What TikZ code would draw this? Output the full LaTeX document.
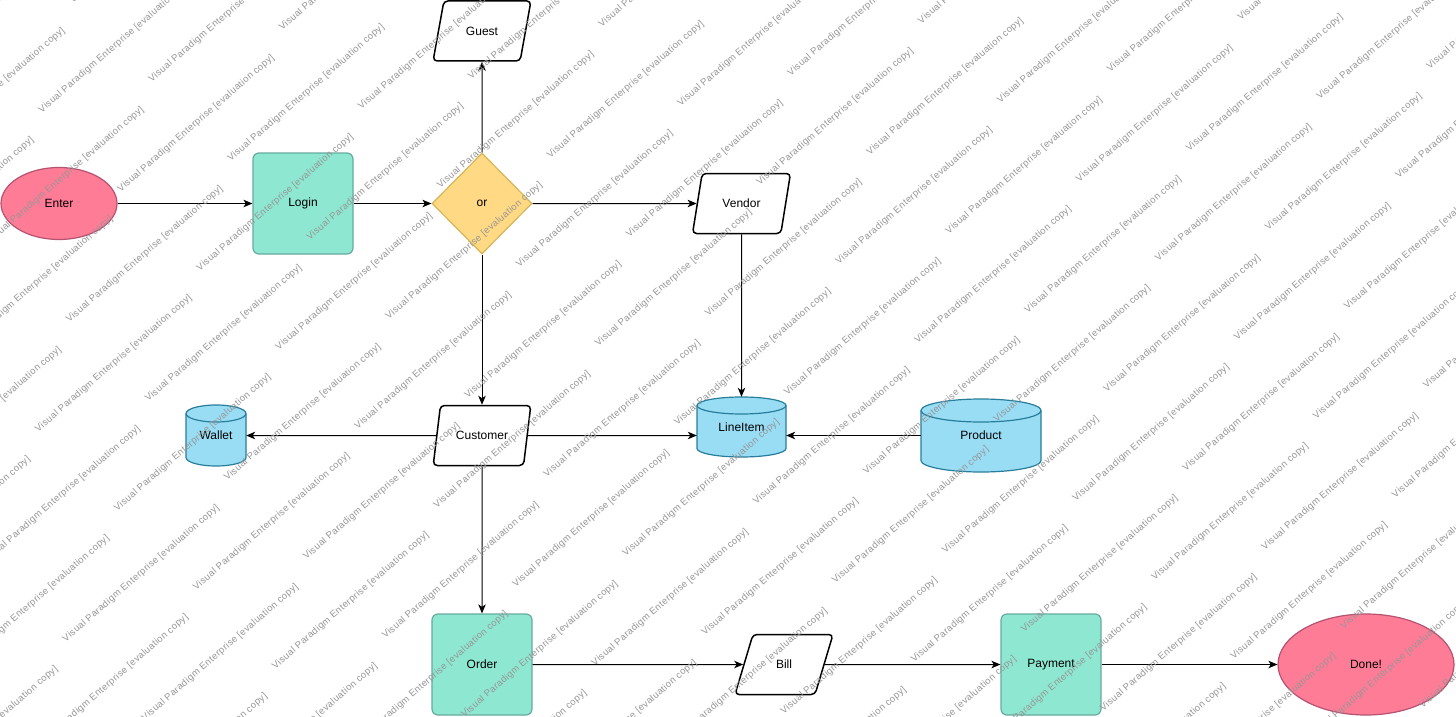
\documentclass[tikz,border=0pt]{standalone}
\usepackage{fontspec}
\setmainfont{Liberation Sans}
\newfontfamily\wmfont[LetterSpace=4]{Liberation Sans}
\usetikzlibrary{shapes.geometric,arrows.meta}
\definecolor{termfill}{RGB}{255,124,151}
\definecolor{termdraw}{RGB}{180,82,112}
\definecolor{procfill}{RGB}{142,232,209}
\definecolor{procdraw}{RGB}{103,171,159}
\definecolor{decfill}{RGB}{255,217,132}
\definecolor{decdraw}{RGB}{214,182,86}
\definecolor{cylfill}{RGB}{153,221,245}
\definecolor{cyldraw}{RGB}{40,125,155}
\definecolor{wmgray}{RGB}{150,150,150}
\newcommand{\cylnode}[7]{%
  \pgfmathsetmacro{\cyW}{#2-#4/2}%
  \pgfmathsetmacro{\cyE}{#2+#4/2}%
  \pgfmathsetmacro{\cyT}{#3-#5/2+#6}%
  \pgfmathsetmacro{\cyB}{#3+#5/2-#6}%
  \pgfmathsetmacro{\cyR}{#4/2}%
  \fill[cylfill] (\cyW,\cyT) -- (\cyW,\cyB) arc[start angle=180,end angle=0,x radius=\cyR,y radius=#6] -- (\cyE,\cyT) -- cycle;
  \draw[cyldraw,line width=1.2pt] (\cyW,\cyT) -- (\cyW,\cyB) arc[start angle=180,end angle=0,x radius=\cyR,y radius=#6] -- (\cyE,\cyT);
  \draw[cyldraw,fill=cylfill,line width=1.2pt] (#2,\cyT) ellipse[x radius=\cyR,y radius=#6];
  \node[cylbox, minimum width=#4pt, minimum height=#5pt] (#1) at (#2,#3) {#7};
}
\begin{document}
\begin{tikzpicture}[x=1pt,y=-1pt, font=\fontsize{12}{14}\selectfont,
 terminal/.style={ellipse, draw=termdraw, fill=termfill, line width=1.2pt, inner sep=0pt},
 process/.style={rectangle, rounded corners=6pt, draw=procdraw, fill=procfill, line width=1.2pt, minimum width=100pt, minimum height=101pt, inner sep=0pt},
 decision/.style={diamond, draw=decdraw, fill=decfill, line width=1.2pt, minimum width=100pt, minimum height=101pt, inner sep=0pt, aspect=1},
 data/.style={trapezium, trapezium left angle=70, trapezium right angle=110, trapezium stretches=true, draw=black, fill=white, line width=1.5pt, rounded corners=4pt, minimum width=98pt, minimum height=60pt, inner xsep=0pt, inner ysep=2pt},
 cylbox/.style={rectangle, inner sep=0pt},
 link/.style={draw=black, line width=1pt, -{Stealth[length=9pt,width=7.5pt,inset=2.5pt]}},
 wm/.style={font=\wmfont\fontsize{9.5}{10}\selectfont, text=wmgray, rotate=41, anchor=base west, inner sep=0pt}
]
\fill[white] (0,0) rectangle (1456,717);
\useasboundingbox (0,0) rectangle (1456,717);

% nodes
\node[terminal, minimum width=116pt, minimum height=72pt] (enter) at (59,203.5) {Enter};
\node[process] (login) at (303,203.5) {Login};
\node[decision] (ordec) at (482,203.5) {or};
\node[data] (guest) at (482,31) {Guest};
\node[data] (vendor) at (741.5,203.5) {Vendor};
\node[data] (customer) at (482,435.5) {Customer};
\cylnode{wallet}{216}{435.5}{60}{61}{8.5}{Wallet}
\cylnode{lineitem}{741.5}{427}{89}{60}{8.5}{LineItem}
\cylnode{product}{981}{435.5}{120}{73}{11.5}{Product}
\node[process] (order) at (482,664.5) {Order};
\node[data] (bill) at (784,664.5) {Bill};
\node[process] (payment) at (1051,664.5) {Payment};
\node[terminal, minimum width=176pt, minimum height=101pt] (done) at (1366,664.5) {Done!};

% connectors
\draw[link] (enter) -- (login);
\draw[link] (login) -- (ordec);
\draw[link] (ordec) -- (guest);
\draw[link] (ordec) -- (vendor);
\draw[link] (ordec) -- (customer);
\draw[link] (vendor) -- (lineitem);
\draw[link] (customer) -- (wallet);
\draw[link] (customer) -- (customer -| lineitem.west);
\draw[link] (product) -- (product -| lineitem.east);
\draw[link] (customer) -- (order);
\draw[link] (order) -- (bill);
\draw[link] (bill) -- (payment);
\draw[link] (payment) -- (done);

% watermark (tiled, two strings per tile)
\begin{scope}
\clip (0,0) rectangle (1456,717);
\foreach \n in {-2,...,10}{
  \foreach \m in {-4,...,5}{
    \node[wm] at ({41.7+(\m)*319.5+(\n)*79},{113.3-(\m)*3.3+(\n)*79}) {Visual Paradigm Enterprise [evaluation copy]};
    \node[wm] at ({151.7+(\m)*319.5+(\n)*79},{82.8-(\m)*3.3+(\n)*79}) {Visual Paradigm Enterprise [evaluation copy]};
  }
}
\end{scope}
\end{tikzpicture}
\end{document}
